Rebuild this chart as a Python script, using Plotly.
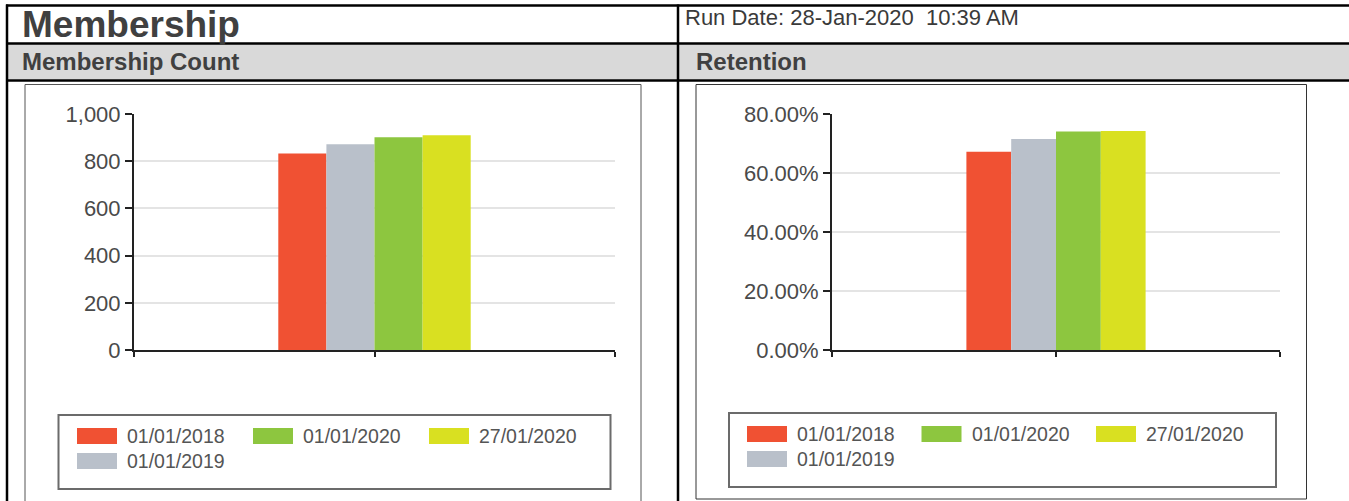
import plotly.graph_objects as go

W, H = 1349, 501

# ---------------- data ----------------
series_names = ["01/01/2018", "01/01/2019", "01/01/2020", "27/01/2020"]
series_colors = ["#f05133", "#b9c0ca", "#8dc63f", "#d9e021"]
categories = ["All"]
membership_count = [833, 872, 901, 910]
retention = [0.672, 0.715, 0.741, 0.742]
legend_order = [0, 2, 3, 1]          # legend reads 2018, 2020, 27/01/2020 | 2019

count_ticks = [0, 200, 400, 600, 800, 1000]
retention_ticks = [0, 0.2, 0.4, 0.6, 0.8]

page_title = "Membership"
run_date = "Run Date: 28-Jan-2020 \u00a010:39 AM"
panel_titles = ["Membership Count", "Retention"]

FONT = "Liberation Sans, Arial, sans-serif"


def fx(p):
    return p / W


def fy(p):
    return 1 - p / H


fig = go.Figure()
cat_pos = list(range(len(categories)))

for i, name in enumerate(series_names):
    fig.add_trace(go.Bar(x=cat_pos, y=[membership_count[i]], name=name,
                         marker=dict(color=series_colors[i], line=dict(width=0)),
                         xaxis="x", yaxis="y", showlegend=False,
                         hovertemplate=name + ": %{y:,}<extra></extra>"))
for i, name in enumerate(series_names):
    fig.add_trace(go.Bar(x=cat_pos, y=[retention[i]], name=name,
                         marker=dict(color=series_colors[i], line=dict(width=0)),
                         xaxis="x2", yaxis="y2", showlegend=False,
                         hovertemplate=name + ": %{y:.2%}<extra></extra>"))

axis_common = dict(showline=True, linecolor="#222222", linewidth=2, zeroline=False,
                   ticks="outside", tickcolor="#222222", tickwidth=2, fixedrange=True,
                   automargin=False)
xcommon = dict(axis_common, range=[-0.5, 0.5], tickvals=[-0.5, 0, 0.5], ticklen=5,
               showticklabels=False, showgrid=False)
ycommon = dict(axis_common, showgrid=True, gridcolor="#e4e4e4", gridwidth=2, ticklen=7,
               tickfont=dict(family=FONT, size=22, color="#4a4a4a"))

plot_top, plot_bottom = 114, 350

fig.update_layout(
    width=W, height=H, autosize=False,
    margin=dict(l=0, r=0, t=0, b=0, pad=0, autoexpand=False),
    paper_bgcolor="white", plot_bgcolor="white",
    barmode="group", bargap=0.6, bargroupgap=0,
    showlegend=False,
    font=dict(family=FONT),
    xaxis=dict(xcommon, domain=[fx(134), fx(615)], anchor="y"),
    yaxis=dict(ycommon, domain=[fy(plot_bottom), fy(plot_top)], anchor="x",
               range=[0, 1000], tickvals=count_ticks, tickformat=",d"),
    xaxis2=dict(xcommon, domain=[fx(832), fx(1280)], anchor="y2"),
    yaxis2=dict(ycommon, domain=[fy(plot_bottom), fy(plot_top)], anchor="x2",
                range=[0, 0.8], tickvals=retention_ticks, tickformat=".2%"),
)

shapes = []
annotations = []


def line(x0, y0, x1, y1, color="#000000", width=2.5):
    shapes.append(dict(type="line", xref="paper", yref="paper",
                       x0=fx(x0), y0=fy(y0), x1=fx(x1), y1=fy(y1),
                       line=dict(color=color, width=width)))


def rect(x0, y0, x1, y1, fill=None, color=None, width=0):
    shapes.append(dict(type="rect", xref="paper", yref="paper",
                       x0=fx(x0), y0=fy(y0), x1=fx(x1), y1=fy(y1),
                       fillcolor=fill if fill else "rgba(0,0,0,0)",
                       line=dict(color=color if color else "rgba(0,0,0,0)", width=width)))


def text(x, y, s, size, bold=False, color="#404040"):
    annotations.append(dict(xref="paper", yref="paper", x=fx(x), y=fy(y),
                            xanchor="left", yanchor="middle", showarrow=False,
                            text=("<b>%s</b>" % s) if bold else s,
                            font=dict(family=FONT, size=size, color=color)))


# header table
rect(7, 44, W + 2, 79.5, fill="#d9d9d9")
line(6, 5.5, W + 2, 5.5)
line(6, 43.5, W + 2, 43.5)
line(6, 80.5, W + 2, 80.5)
line(7, 4.5, 7, H + 2)
line(678, 4.5, 678, H + 2)

text(20, 24, page_title, 37, bold=True, color="#404040")
text(683, 18, run_date, 22, color="#3a3a3a")
text(20, 62, panel_titles[0], 24, bold=True, color="#404040")
text(694, 62, panel_titles[1], 24, bold=True, color="#404040")

# chart frames
rect(25, 84.5, 641, H + 5, color="#555555", width=1)
rect(696, 84.5, 1306.5, 499, color="#333333", width=1)

# legends (built from the series arrays)
legend_specs = [
    dict(box=(58.5, 415, 610.5, 489), dx=18.5, dy=13, col=176),
    dict(box=(729, 413, 1276, 487), dx=18, dy=13, col=174.5),
]
n_cols = 3
for spec in legend_specs:
    bx0, by0, bx1, by1 = spec["box"]
    rect(bx0, by0, bx1, by1, color="#6b6b6b", width=2)
    for slot, si in enumerate(legend_order):
        c, r = slot % n_cols, slot // n_cols
        sx = bx0 + spec["dx"] + c * spec["col"]
        sy = by0 + spec["dy"] + r * 25
        rect(sx, sy, sx + 40, sy + 16, fill=series_colors[si])
        text(sx + 48, sy + 8, series_names[si], 19.5, color="#555555")

fig.update_layout(shapes=shapes, annotations=annotations)

fig.write_html(
    "out.html",
    config={"displayModeBar": False},
    post_script="document.body.style.margin='0';document.body.style.overflow='hidden';"
                "document.documentElement.style.overflow='hidden';",
)
